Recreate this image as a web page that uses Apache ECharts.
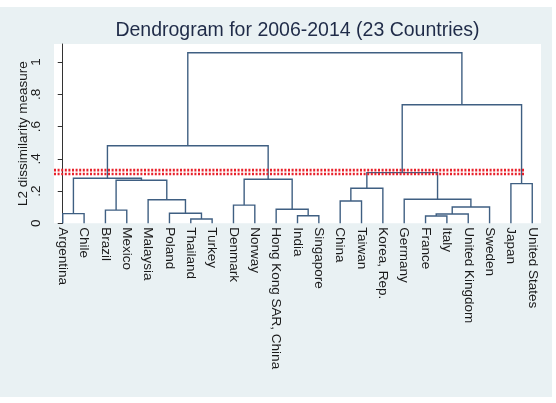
<!DOCTYPE html>
<html lang="en">
<head>
<meta charset="UTF-8">
<title>Dendrogram</title>
<script src="https://cdn.jsdelivr.net/npm/echarts@6/dist/echarts.min.js"></script>
<style>
    body { margin: 0; background: #fff; }
    #chart { position: absolute; left: 0; top: 7px; width: 552px; height: 390px; }
</style>
</head>
<body>
<div id="chart"></div>
<script>
// leaves in dendrogram order
var countries = ['Argentina', 'Chile', 'Brazil', 'Mexico', 'Malaysia', 'Poland', 'Thailand', 'Turkey',
    'Denmark', 'Norway', 'Hong Kong SAR, China', 'India', 'Singapore', 'China', 'Taiwan', 'Korea, Rep.',
    'Germany', 'France', 'Italy', 'United Kingdom', 'Sweden', 'Japan', 'United States'];

// merges: ids 0..22 are countries, merge k gets id 23+k
var mergeLeft   = [0, 2, 6, 5, 4, 24, 23, 8, 11, 10, 30, 29, 13, 35, 17, 37, 38, 16, 36, 21, 41, 34];
var mergeRight  = [1, 3, 7, 25, 26, 27, 28, 9, 12, 31, 32, 33, 14, 15, 18, 19, 20, 39, 40, 22, 42, 43];
var mergeHeight = [0.060, 0.082, 0.027, 0.062, 0.146, 0.267, 0.279, 0.113, 0.047, 0.087, 0.273, 0.481,
    0.138, 0.217, 0.045, 0.058, 0.101, 0.149, 0.314, 0.246, 0.735, 1.058];

// red dotted cut lines
var cutHeights = [0.306, 0.330];
var cutFrom = -0.41, cutTo = 21.63;

var yTicks = [0, 0.2, 0.4, 0.6, 0.8, 1];
var yTickLabels = ['0', '.2', '.4', '.6', '.8', '1'];

var nodeX = countries.map(function (c, i) { return i; });
var nodeH = countries.map(function () { return 0; });
var links = [];
mergeHeight.forEach(function (h, k) {
    var l = mergeLeft[k], r = mergeRight[k];
    nodeX.push((nodeX[l] + nodeX[r]) / 2);
    nodeH.push(h);
    links.push({coords: [[nodeX[l], nodeH[l]], [nodeX[l], h], [nodeX[r], h], [nodeX[r], nodeH[r]]]});
});

var cuts = cutHeights.map(function (h) {
    return {coords: [[cutFrom, h], [cutTo, h]]};
});

var font = 'Liberation Sans, Arial, sans-serif';
var chart = echarts.init(document.getElementById('chart'));
chart.setOption({
    backgroundColor: '#e9f1f3',
    animation: false,
    graphic: [{
        type: 'text',
        x: 297.5,
        y: 23.7,
        style: {
            text: 'Dendrogram for 2006-2014 (23 Countries)',
            fontSize: 19.5,
            fontFamily: font,
            fill: '#1f2b48',
            align: 'center',
            verticalAlign: 'middle'
        }
    }],
    grid: {
        left: 54, right: 11, top: 37, bottom: 173.7,
        show: true, backgroundColor: '#fff', borderWidth: 0
    },
    xAxis: {
        type: 'value',
        min: -0.41,
        max: 22.41,
        axisLine: {show: false},
        axisTick: {show: false},
        splitLine: {show: false},
        axisLabel: {
            customValues: nodeX.slice(0, countries.length),
            formatter: function (v) { return countries[Math.round(v)]; },
            rotate: -90,
            margin: 4,
            fontSize: 13.5,
            fontFamily: font,
            color: '#1a1a1a'
        }
    },
    yAxis: {
        type: 'value',
        min: 0,
        max: 1.112,
        name: 'L2 dissimilarity measure',
        nameLocation: 'middle',
        nameRotate: 90,
        nameGap: 24,
        nameMoveOverlap: false,
        nameTextStyle: {fontSize: 13.5, fontFamily: font, color: '#1a1a1a'},
        axisLine: {show: true, lineStyle: {color: '#333', width: 1}},
        axisTick: {show: true, customValues: yTicks, length: 5, lineStyle: {color: '#333'}},
        splitLine: {show: false},
        axisLabel: {
            customValues: yTicks,
            formatter: function (v) { return yTickLabels[yTicks.indexOf(v)]; },
            rotate: 90,
            margin: 11,
            fontSize: 13.5,
            fontFamily: font,
            color: '#1a1a1a'
        }
    },
    series: [{
        type: 'lines',
        coordinateSystem: 'cartesian2d',
        polyline: true,
        silent: true,
        lineStyle: {color: '#3f5f82', width: 1.4, opacity: 1},
        data: links
    }, {
        type: 'lines',
        coordinateSystem: 'cartesian2d',
        polyline: true,
        silent: true,
        z: 5,
        lineStyle: {color: '#e8202a', width: 2.6, type: [2, 1.6], opacity: 1},
        data: cuts
    }]
});
</script>
</body>
</html>
